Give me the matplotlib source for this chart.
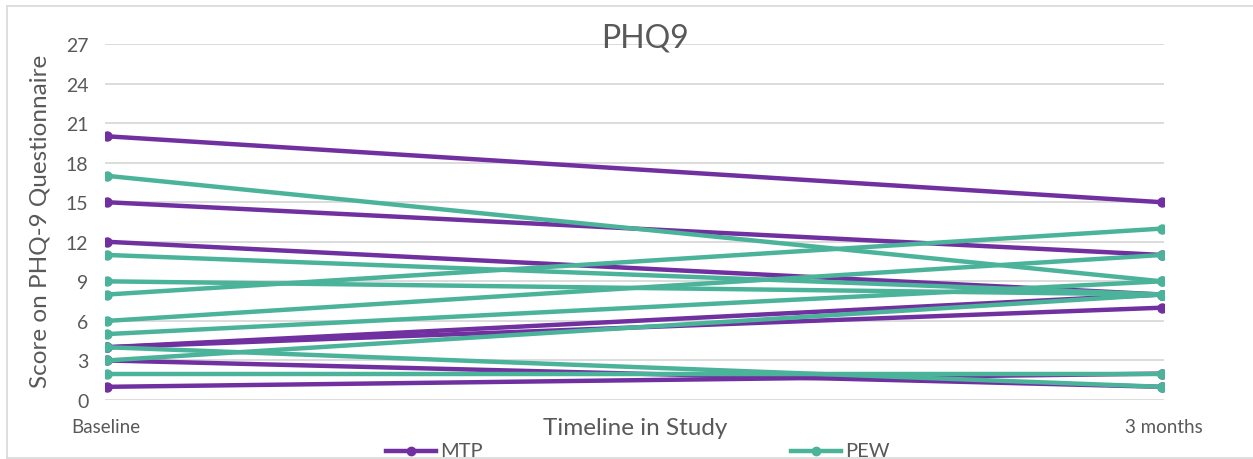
import matplotlib
matplotlib.use("Agg")
import matplotlib.pyplot as plt
from matplotlib.lines import Line2D

plt.rcParams['font.family'] = ['Lato', 'DejaVu Sans']

categories = ["Baseline", "3 months"]
mtp_baseline = [20, 15, 12, 4, 4, 3, 1]
mtp_3months = [15, 11, 8, 8, 7, 1, 2]
pew_baseline = [17, 11, 9, 8, 6, 5, 4, 3, 2]
pew_3months = [9, 8, 8, 13, 11, 9, 1, 8, 2]
yticks = [0, 3, 6, 9, 12, 15, 18, 21, 24, 27]

MTP_C = "#7030A0"
PEW_C = "#4BB399"
GRAY = "#595959"

W, H = 1253, 460
fig = plt.figure(figsize=(W / 100, H / 100), dpi=100)
ax = fig.add_axes([105 / W, (H - 401) / H, (1164 - 105) / W, (401 - 45) / H])

xs = [0, 1]
for a, b in zip(mtp_baseline, mtp_3months):
    ax.plot(xs, [a, b], color=MTP_C, lw=3.2, marker='o', ms=6.5, solid_capstyle='round', zorder=3)
for a, b in zip(pew_baseline, pew_3months):
    ax.plot(xs, [a, b], color=PEW_C, lw=3.2, marker='o', ms=6.5, solid_capstyle='round', zorder=4)

ax.set_xlim(-0.002, 1.002)
ax.set_ylim(0, 27)
ax.set_yticks(yticks)
ax.set_xticks([])
ax.grid(axis='y', color='#D9D9D9', lw=1.3, zorder=0)
ax.set_axisbelow(True)
for s in ax.spines.values():
    s.set_visible(False)
ax.tick_params(axis='y', length=0, labelsize=14, labelcolor=GRAY, pad=12)

# category labels
fig.text(106 / W, 1 - 428 / H, categories[0], ha='center', va='center', fontsize=13.5, color=GRAY)
fig.text(1164 / W, 1 - 428 / H, categories[1], ha='center', va='center', fontsize=13.5, color=GRAY)

fig.text(635 / W, 1 - 429 / H, "Timeline in Study", ha='center', va='center', fontsize=17.5, color=GRAY)
fig.text(40 / W, 1 - 221 / H, "Score on PHQ-9 Questionnaire", ha='center', va='center',
         rotation=90, fontsize=17.5, color=GRAY)
fig.text(645 / W, 1 - 38 / H, "PHQ9", ha='center', va='center', fontsize=23, color=GRAY, zorder=5)

# legend
for x0, c, lab in [(386, MTP_C, "MTP"), (791, PEW_C, "PEW")]:
    fig.add_artist(Line2D([x0 / W, (x0 + 50) / W], [1 - 452 / H] * 2, color=c, lw=3.2,
                          marker=None, transform=fig.transFigure))
    fig.add_artist(Line2D([(x0 + 25) / W], [1 - 452 / H], color=c, marker='o', ms=6,
                          transform=fig.transFigure))
    fig.text((x0 + 54) / W, 1 - 452 / H, lab, ha='left', va='center', fontsize=14.5, color=GRAY)

# chart border
bc = '#D9D9D9'
fig.add_artist(Line2D([7 / W, 1], [1 - 7 / H] * 2, color=bc, lw=1.2, transform=fig.transFigure))
fig.add_artist(Line2D([7 / W] * 2, [1 - 7 / H, 1 - 459 / H], color=bc, lw=1.2, transform=fig.transFigure))
fig.add_artist(Line2D([7 / W, 1], [1 - 459 / H] * 2, color=bc, lw=1.2, transform=fig.transFigure))

fig.savefig("out.png", dpi=100)
